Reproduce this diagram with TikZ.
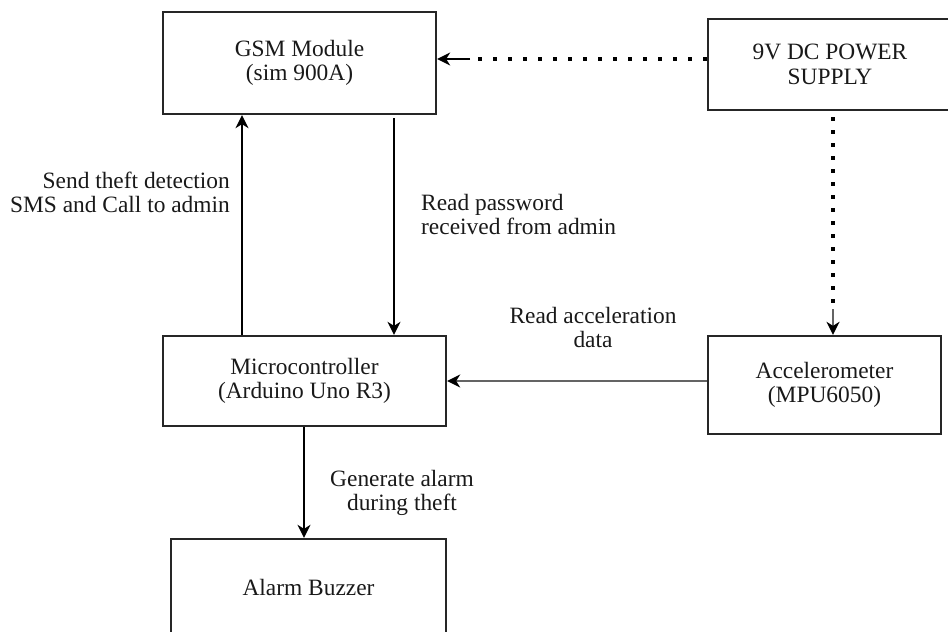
\documentclass[tikz,border=0pt]{standalone}
\usepackage{fontspec}
\setmainfont{Liberation Serif}
\usetikzlibrary{arrows.meta}
\definecolor{linegray}{RGB}{100,100,100}
\definecolor{inkc}{RGB}{25,25,25}
\begin{document}
\begin{tikzpicture}[x=1pt,y=-1pt,
  txt/.style={font=\fontsize{23.4}{24.5}\selectfont,text=inkc},
  block/.style={txt,draw=black!85,line width=2.3pt,align=center,inner sep=0pt},
  lbl/.style={txt,inner sep=0pt},
  tip/.style={-{Stealth[length=13pt,width=13pt,inset=4pt,black]}},
  wire/.style={line width=2.2pt,draw=black},
  graywire/.style={line width=2.6pt,draw=linegray},
  hdots/.style={line width=3.6pt,draw=black,dash pattern=on 3.6pt off 11.4pt},
  vdots/.style={line width=3.6pt,draw=black,dash pattern=on 3.6pt off 9.4pt}
]
\useasboundingbox (0,0) rectangle (948,632);

% blocks
\node[block,minimum width=273pt,minimum height=102pt] (gsm) at (299.5,63) {GSM Module\\(sim 900A)};
\node[block,minimum width=244pt,minimum height=91pt] (power) at (830,64.5) {9V DC POWER\\SUPPLY};
\node[block,minimum width=283pt,minimum height=90pt] (mcu) at (304.5,381) {Microcontroller\\(Arduino Uno R3)};
\node[block,minimum width=233pt,minimum height=98pt] (accel) at (824.5,385) {Accelerometer\\(MPU6050)};
\node[block,minimum width=275pt,minimum height=97pt] (buzzer) at (308.5,587.5) {Alarm Buzzer};

% guide coordinates for the connector tracks
\coordinate (upx) at (242,0);
\coordinate (downx) at (394,0);
\coordinate (buzx) at (304,0);
\coordinate (pwrx) at (833,0);
\coordinate (pwry) at (0,59);
\coordinate (accy) at (0,381);
\coordinate (hbreak) at (470,59);
\coordinate (vtop) at (833,117);
\coordinate (vbreak) at (833,303);
\coordinate (vsolid) at (833,309);

% MCU -> GSM and GSM -> MCU
\draw[wire,tip] (mcu.north -| upx) -- (gsm.south -| upx);
\draw[wire,tip,shorten <=3pt] (gsm.south -| downx) -- (mcu.north -| downx);

% accelerometer -> MCU
\draw[graywire,tip] (accel.west |- accy) -- (mcu.east |- accy);

% MCU -> buzzer
\draw[wire,tip] (mcu.south -| buzx) -- (buzzer.north -| buzx);

% power distribution (dotted)
\draw[hdots] (power.west |- pwry) -- (hbreak);
\draw[wire,tip] (hbreak) -- (gsm.east |- pwry);
\draw[vdots] (vtop) -- (vbreak);
\draw[graywire,tip] (vsolid) -- (accel.north -| pwrx);

% connector labels
\node[lbl,align=right,anchor=east] (lsend) at (230,192.5) {Send theft detection\\SMS and Call to admin};
\node[lbl,align=left,anchor=west] (lread) at (421,214.5) {Read password\\received from admin};
\node[lbl,align=center] (lacc) at (593,327.5) {Read acceleration\\data};
\node[lbl,align=center] (lalarm) at (402,493) {Generate alarm\\during theft};
\end{tikzpicture}
\end{document}
